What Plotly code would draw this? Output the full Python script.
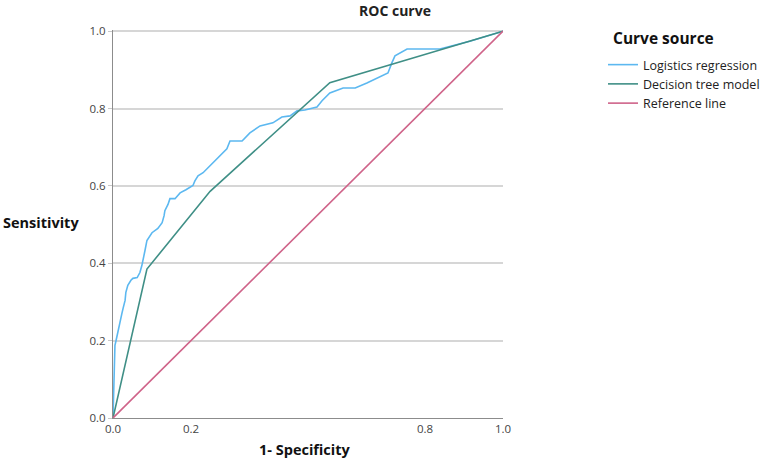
import plotly.graph_objects as go

# Logistic regression ROC points (1-specificity, sensitivity)
lr_fpr = [0.0, 0.003, 0.005, 0.008, 0.013, 0.018, 0.023, 0.026, 0.031, 0.033, 0.038, 0.046,
          0.051, 0.062, 0.069, 0.074, 0.077, 0.082, 0.087, 0.095, 0.100, 0.115, 0.126, 0.131,
          0.133, 0.141, 0.146, 0.159, 0.172, 0.187, 0.205, 0.210, 0.218, 0.231, 0.241, 0.254,
          0.267, 0.279, 0.292, 0.300, 0.331, 0.351, 0.364, 0.377, 0.410, 0.433, 0.454, 0.472,
          0.492, 0.523, 0.536, 0.556, 0.590, 0.621, 0.651, 0.705, 0.715, 0.723, 0.754, 0.838,
          0.915, 1.0]
lr_tpr = [0.0, 0.098, 0.188, 0.201, 0.227, 0.245, 0.271, 0.284, 0.304, 0.325, 0.343, 0.356,
          0.361, 0.363, 0.376, 0.394, 0.412, 0.433, 0.459, 0.472, 0.479, 0.490, 0.505, 0.523,
          0.536, 0.552, 0.567, 0.567, 0.582, 0.590, 0.601, 0.613, 0.626, 0.634, 0.644, 0.657,
          0.670, 0.683, 0.696, 0.716, 0.716, 0.737, 0.747, 0.755, 0.763, 0.778, 0.781, 0.794,
          0.796, 0.804, 0.820, 0.840, 0.853, 0.853, 0.866, 0.892, 0.918, 0.936, 0.954, 0.954,
          0.974, 1.0]

# Decision tree ROC points
dt_fpr = [0.0, 0.087, 0.249, 0.556, 1.0]
dt_tpr = [0.0, 0.385, 0.586, 0.867, 1.0]

# Reference line
ref_x = [0.0, 1.0]
ref_y = [0.0, 1.0]

x_tickvals = [0.0, 0.2, 0.8, 1.0]
x_ticktext = ["0.0", "0.2", "0.8", "1.0"]
y_tickvals = [0.0, 0.2, 0.4, 0.6, 0.8, 1.0]
y_ticktext = ["0.0", "0.2", "0.4", "0.6", "0.8", "1.0"]

FONT = "Open Sans"
L, R, T, B = 113, 503, 30, 418
PW, PH = R - L, B - T

fig = go.Figure()
fig.add_trace(go.Scatter(x=lr_fpr, y=lr_tpr, mode="lines", name="Logistics regression",
                         line=dict(color="#5CB8F0", width=1.6)))
fig.add_trace(go.Scatter(x=dt_fpr, y=dt_tpr, mode="lines", name="Decision tree model",
                         line=dict(color="#3F8F86", width=1.6)))
fig.add_trace(go.Scatter(x=ref_x, y=ref_y, mode="lines", name="Reference line",
                         line=dict(color="#CF6389", width=1.6)))

fig.update_layout(
    width=767, height=464,
    margin=dict(l=L, r=767 - R, t=T, b=464 - B, autoexpand=False),
    paper_bgcolor="white", plot_bgcolor="white",
    font=dict(family=FONT, color="#333333", size=12),
    title=dict(text="<b>ROC curve</b>", x=395 / 767, xanchor="center",
               y=1 - 11 / 464, yanchor="middle", font=dict(size=14, color="#222222")),
    legend=dict(x=(603 - L) / PW, xanchor="left", y=(B - 50) / PH, yanchor="top",
                font=dict(size=12.5, color="#222222"), bgcolor="rgba(0,0,0,0)",
                tracegroupgap=0, itemwidth=30),
    showlegend=True,
    xaxis=dict(range=[0, 1.0], tickvals=x_tickvals, ticktext=x_ticktext,
               showgrid=False, zeroline=False, showline=True, linecolor="#8C8C8C", linewidth=1.2,
               ticks="", tickfont=dict(size=11.5, color="#444444"), fixedrange=True),
    yaxis=dict(range=[0, 1.003], tickvals=y_tickvals, ticktext=y_ticktext,
               showgrid=True, gridcolor="#D6D6D6", gridwidth=1.5, zeroline=False,
               showline=True, linecolor="#8C8C8C", linewidth=1.2,
               ticks="outside", ticklen=4, tickcolor="#C8C8C8",
               tickfont=dict(size=11.5, color="#444444"), fixedrange=True),
    annotations=[
        dict(text="<b>Curve source</b>", xref="paper", yref="paper",
             x=(611 - L) / PW, xanchor="left", y=(B - 38) / PH, yanchor="middle",
             showarrow=False, font=dict(size=15.5, color="#111111")),
        dict(text="<b>Sensitivity</b>", xref="paper", yref="paper",
             x=(1 - L) / PW, xanchor="left", y=(B - 222) / PH, yanchor="middle",
             showarrow=False, font=dict(size=14.5, color="#111111")),
        dict(text="<b>1- Specificity</b>", xref="paper", yref="paper",
             x=(305 - L) / PW, xanchor="center", y=(B - 449) / PH, yanchor="middle",
             showarrow=False, font=dict(size=14.5, color="#111111")),
    ],
)

fig.write_html("out.html")
